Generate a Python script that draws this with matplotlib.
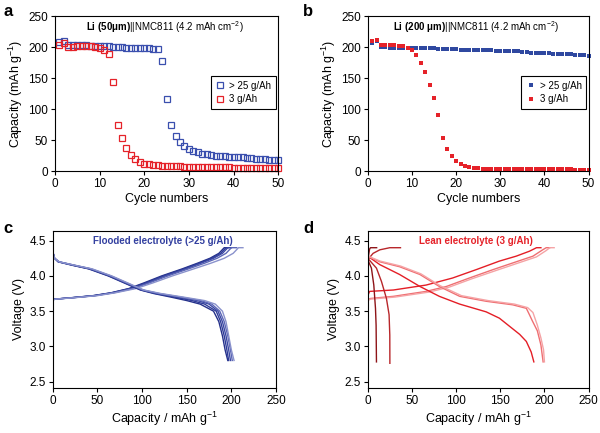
import matplotlib
matplotlib.use('Agg')
import matplotlib.pyplot as plt

plt.rcParams['font.family'] = ['Liberation Sans', 'DejaVu Sans']
plt.rcParams['mathtext.fontset'] = 'custom'
plt.rcParams['mathtext.rm'] = 'Liberation Sans'
plt.rcParams['mathtext.bf'] = 'Liberation Sans:bold'
plt.rcParams['mathtext.it'] = 'Liberation Sans:italic'

# ---- panel a: Li (50um) cycling ----
cycles = list(range(1, 51))
cap_a_flooded = [208, 210, 204, 204, 203, 203, 203, 202, 202, 202,
                 201, 201, 200, 200, 200, 199, 199, 199, 198, 198,
                 198, 197, 197, 178, 116, 74, 57, 47, 41, 36,
                 33, 30, 28, 27, 26, 25, 24, 24, 23, 23,
                 22, 22, 21, 21, 20, 20, 19, 18, 18, 17]
cap_a_lean = [204, 207, 200, 200, 201, 201, 201, 201, 200, 199,
              196, 189, 144, 75, 54, 37, 26, 19, 15, 12,
              11, 10, 9, 8.5, 8, 8, 7.5, 7.5, 7, 7,
              7, 6.5, 6.5, 6.5, 6, 6, 6, 6, 6, 5.5,
              5.5, 5.5, 5.5, 5.5, 5, 5, 5, 5, 5, 5]

# ---- panel b: Li (200um) cycling ----
cap_b_flooded = [207, 210, 200, 200, 199, 199, 199, 199, 199, 198,
                 198, 198, 198, 198, 198, 197, 197, 197, 197, 197,
                 196, 196, 196, 196, 196, 195, 195, 195, 194, 194,
                 194, 193, 193, 193, 192, 192, 191, 191, 191, 190,
                 190, 189, 189, 189, 188, 188, 187, 187, 187, 186]
cap_b_lean = [209, 212, 203, 203, 203, 203, 202, 201, 199, 195,
              187, 175, 159, 139, 117, 90, 54, 35, 24, 16,
              11, 8, 6, 5, 4.5, 4, 4, 4, 3.5, 3.5,
              3.5, 3.5, 3, 3, 3, 3, 3, 3, 3, 3,
              2.5, 2.5, 2.5, 2.5, 2.5, 2.5, 2, 2, 2, 2]

# ---- panel c: flooded voltage profiles (capacity at each voltage) ----
chg_v_c = [3.66, 3.67, 3.69, 3.72, 3.76, 3.82, 3.90, 4.00, 4.10, 4.18, 4.25, 4.32, 4.40, 4.40]
chg_cap_c = [
    [0, 2, 20, 45, 65, 85, 102, 122, 145, 162, 176, 186, 192, 194],
    [0, 2, 21, 46, 66, 86, 104, 124, 147, 164, 178, 188, 194, 197],
    [0, 2, 22, 47, 67, 88, 106, 126, 149, 166, 180, 190, 196, 200],
    [0, 2, 22, 48, 68, 90, 108, 129, 152, 170, 184, 194, 200, 206],
    [0, 3, 24, 50, 70, 93, 112, 134, 158, 177, 192, 202, 208, 213],
]
dis_v_c = [4.34, 4.25, 4.20, 4.15, 4.10, 4.00, 3.90, 3.80, 3.75, 3.70, 3.65, 3.60, 3.50, 3.35, 3.15, 2.95, 2.80]
dis_cap_c = [
    [0, 2, 6, 22, 40, 62, 80, 98, 113, 132, 150, 165, 180, 186, 190, 193, 196],
    [0, 2, 6, 23, 41, 63, 81, 99, 115, 136, 156, 170, 183, 188, 192, 195, 197],
    [0, 2, 7, 24, 42, 64, 82, 100, 117, 140, 162, 175, 185, 190, 194, 197, 199],
    [0, 2, 7, 25, 43, 65, 83, 101, 119, 143, 166, 178, 187, 192, 196, 199, 201],
    [0, 2, 7, 25, 44, 66, 84, 102, 121, 146, 170, 182, 190, 194, 197, 200, 203],
]
colors_c = ['#24308a', '#2e3b98', '#3b48a3', '#5b66b6', '#8a92cc']

# ---- panel d: lean voltage profiles ----
chg_d = [
    ([0, 2, 3, 10], [4.22, 4.38, 4.40, 4.40]),
    ([0, 6, 13.6, 24.9, 37], [4.23, 4.32, 4.37, 4.40, 4.40]),
    ([0, 2, 29, 66, 96, 123, 149, 168, 183, 191, 196],
     [3.72, 3.78, 3.80, 3.87, 3.97, 4.09, 4.21, 4.28, 4.35, 4.40, 4.40]),
    ([0, 3, 29, 66, 89, 115, 142, 168, 187, 198, 202, 206],
     [3.66, 3.68, 3.71, 3.78, 3.85, 3.97, 4.09, 4.20, 4.28, 4.37, 4.40, 4.40]),
    ([0, 3, 31, 69, 92, 118, 146, 172, 191, 202, 206, 211],
     [3.65, 3.67, 3.70, 3.77, 3.84, 3.96, 4.08, 4.19, 4.27, 4.36, 4.40, 4.40]),
]
dis_d = [
    ([0, 1, 4.1, 6.8, 8.7, 9.4, 9.8], [4.28, 4.20, 4.11, 3.87, 3.54, 3.30, 2.78]),
    ([0, 9.8, 15.5, 21.1, 24.1, 24.9, 25], [4.25, 4.11, 3.92, 3.68, 3.45, 3.16, 2.76]),
    ([0, 13.6, 36, 59, 81, 104, 134, 149, 161, 172, 179.5, 185, 188],
     [4.28, 4.16, 4.02, 3.85, 3.71, 3.60, 3.49, 3.40, 3.28, 3.17, 3.07, 2.92, 2.78]),
    ([0, 13.6, 36, 59, 81, 104, 134, 164, 179.5, 183, 186, 192, 196, 198.5],
     [4.28, 4.20, 4.13, 4.02, 3.85, 3.71, 3.64, 3.59, 3.54, 3.45, 3.37, 3.22, 3.02, 2.78]),
    ([0, 14, 37, 60, 82, 106, 136, 166, 181, 187, 192, 196, 199, 200],
     [4.28, 4.21, 4.14, 4.03, 3.86, 3.72, 3.65, 3.60, 3.55, 3.48, 3.30, 3.12, 2.95, 2.78]),
]
colors_d = ['#8e1418', '#b8262a', '#e41e26', '#ef6f72', '#f5a3a5']

blue = '#3a4fae'
red = '#e52229'
blue_b = '#2f48a0'


def style_axes(ax):
    for s in ax.spines.values():
        s.set_linewidth(0.8)
    ax.tick_params(direction='out', length=3, width=0.8, labelsize=8.5, pad=2)


fig = plt.figure(figsize=(6, 4.33), dpi=100)
ax_a = fig.add_axes([0.0917, 0.605, 0.372, 0.358])
ax_b = fig.add_axes([0.613, 0.605, 0.368, 0.358])
ax_c = fig.add_axes([0.088, 0.104, 0.372, 0.363])
ax_d = fig.add_axes([0.613, 0.104, 0.368, 0.363])

# panel a
ax_a.plot(cycles, cap_a_flooded, 's', ms=4.2, mfc='none', mec=blue, mew=0.9,
          label='> 25 g/Ah', clip_on=False)
ax_a.plot(cycles, cap_a_lean, 's', ms=4.2, mfc='none', mec=red, mew=0.9,
          label='3 g/Ah', clip_on=False)
ax_a.text(24.5, 232, r'$\mathbf{Li\ (50μm)}$||NMC811 (4.2 mAh cm$^{-2}$)',
          ha='center', va='center', fontsize=7)

# panel b
ax_b.plot(cycles, cap_b_flooded, 's', ms=2.8, color=blue_b, mew=0,
          label='> 25 g/Ah', clip_on=False)
ax_b.plot(cycles, cap_b_lean, 's', ms=2.8, color=red, mew=0,
          label='3 g/Ah', clip_on=False)
ax_b.text(24.5, 232, r'$\mathbf{Li\ (200\ μm)}$||NMC811 (4.2 mAh cm$^{-2}$)',
          ha='center', va='center', fontsize=7)

for ax in (ax_a, ax_b):
    style_axes(ax)
    ax.set_xlim(0, 50)
    ax.set_ylim(0, 250)
    ax.set_xticks([0, 10, 20, 30, 40, 50])
    ax.set_yticks([0, 50, 100, 150, 200, 250])
    ax.set_xlabel('Cycle numbers', fontsize=9, labelpad=2)
    ax.set_ylabel('Capacity (mAh g$^{-1}$)', fontsize=9, labelpad=2)
    leg = ax.legend(loc='upper right', bbox_to_anchor=(0.99, 0.615), fontsize=7,
                    fancybox=False, edgecolor='black', framealpha=1,
                    handlelength=1.0, handletextpad=0.4, borderpad=0.5,
                    labelspacing=0.4, borderaxespad=0)
    leg.get_frame().set_linewidth(0.8)

# panel c
for caps, col in zip(chg_cap_c, colors_c):
    ax_c.plot(caps, chg_v_c, color=col, lw=1.0)
for caps, col in zip(dis_cap_c, colors_c):
    ax_c.plot(caps, dis_v_c, color=col, lw=1.0)
ax_c.text(123, 4.495, 'Flooded electrolyte (>25 g/Ah)', color='#3340a0',
          fontsize=7, fontweight='bold', ha='center', va='center')

# panel d
for (cx, cy), col in zip(chg_d, colors_d):
    ax_d.plot(cx, cy, color=col, lw=1.0)
for (dx, dy), col in zip(dis_d, colors_d):
    ax_d.plot(dx, dy, color=col, lw=1.0)
ax_d.text(123, 4.495, 'Lean electrolyte (3 g/Ah)', color=red,
          fontsize=7, fontweight='bold', ha='center', va='center')

for ax in (ax_c, ax_d):
    style_axes(ax)
    ax.set_xlim(0, 250)
    ax.set_ylim(2.41, 4.64)
    ax.set_xticks([0, 50, 100, 150, 200, 250])
    ax.set_yticks([2.5, 3.0, 3.5, 4.0, 4.5])
    ax.set_yticklabels(['2.5', '3.0', '3.5', '4.0', '4.5'])
    ax.set_xlabel('Capacity / mAh g$^{-1}$', fontsize=9, labelpad=2)
    ax.set_ylabel('Voltage (V)', fontsize=9, labelpad=3)

for lbl, x, y in [('a', 0.005, 0.99), ('b', 0.505, 0.99),
                  ('c', 0.005, 0.49), ('d', 0.505, 0.49)]:
    fig.text(x, y, lbl, fontsize=12, fontweight='bold', ha='left', va='top')

fig.savefig('out.png', dpi=100)
